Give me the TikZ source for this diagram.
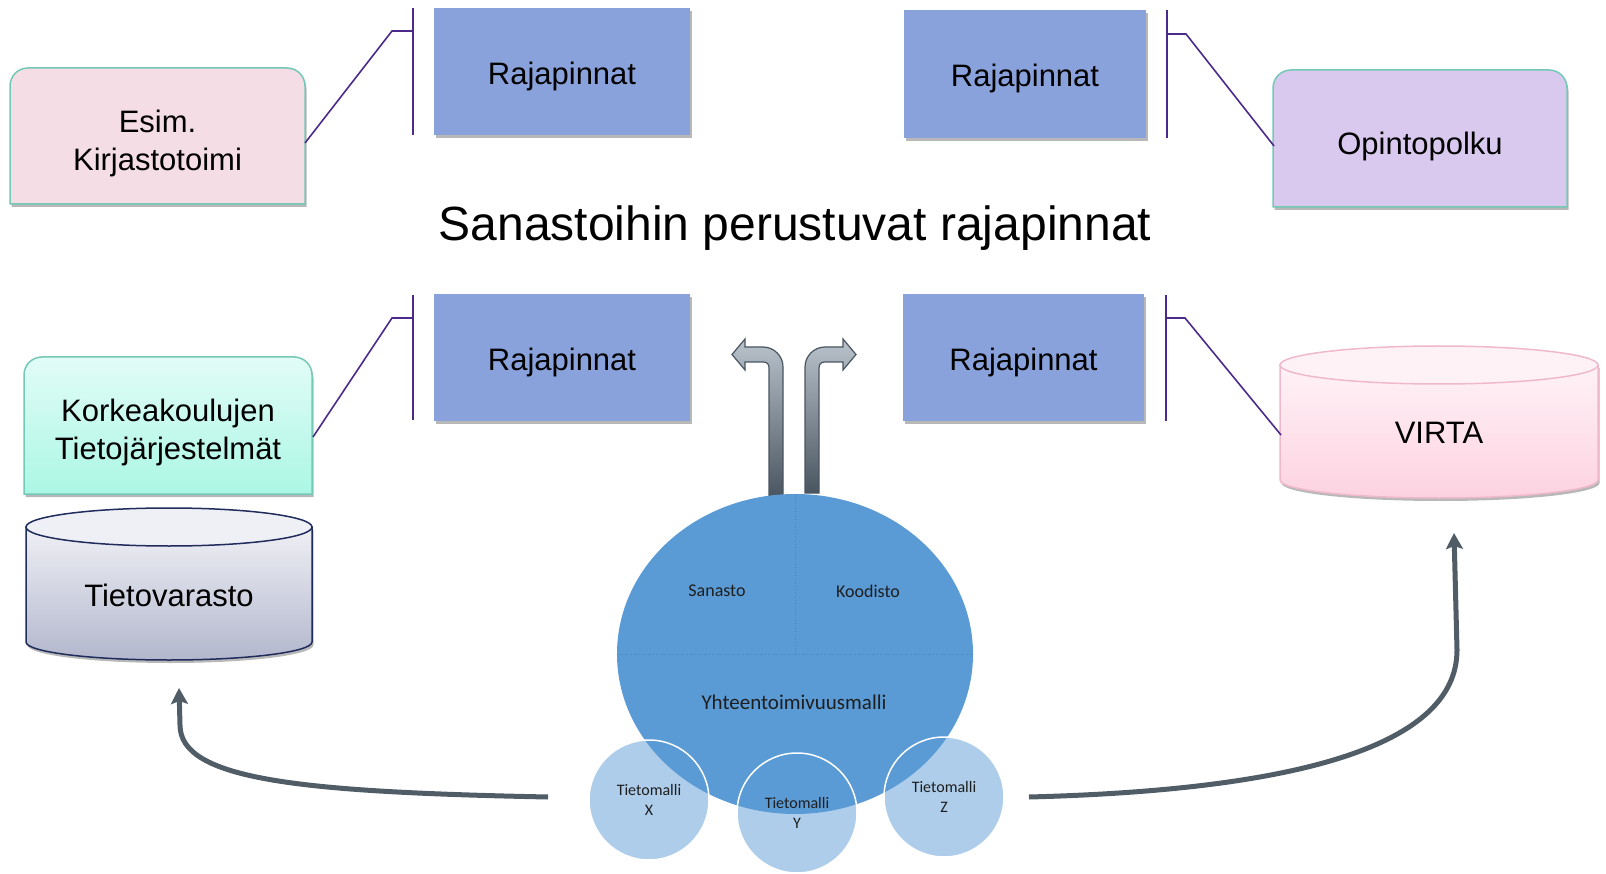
\documentclass[tikz,border=0pt]{standalone}
\usepackage{fontspec}
\setmainfont{Liberation Sans}
\newfontfamily\calfont{Carlito}
\usetikzlibrary{shadows,arrows.meta,shapes.geometric}

\definecolor{rajablue}{HTML}{8AA2DB}
\definecolor{bracketpurple}{HTML}{4B2A8C}
\definecolor{tealline}{HTML}{74C8B6}
\definecolor{esimpink}{HTML}{F5DDE6}
\definecolor{opinlav}{HTML}{D9C9EE}
\definecolor{kktop}{HTML}{E2FCF7}
\definecolor{kkbot}{HTML}{ABF7E4}
\definecolor{tvtop}{HTML}{EFF0F5}
\definecolor{tvbot}{HTML}{B3B7CD}
\definecolor{tvline}{HTML}{1F2C5C}
\definecolor{virtatop}{HTML}{FFF2F7}
\definecolor{virtabot}{HTML}{FDD2E1}
\definecolor{virtaline}{HTML}{F0B8CB}
\definecolor{coreblue}{HTML}{5B9BD5}
\definecolor{divblue}{HTML}{4A84BC}
\definecolor{turntop}{HTML}{BAC3CC}
\definecolor{turnbot}{HTML}{495560}
\definecolor{flowgray}{HTML}{505D67}
\definecolor{smalltext}{HTML}{1E1E1E}

\newcommand\bigtxt{\fontsize{31}{38}\selectfont}
% box with rounded top corners and square bottom corners
\newcommand\toptab[5]{%
  \path[#1] (#2,#5) -- (#2,#3+18) .. controls (#2,#3+8) and (#2+8,#3) .. (#2+18,#3)
    -- (#4-18,#3) .. controls (#4-8,#3) and (#4,#3+8) .. (#4,#3+18) -- (#4,#5) -- cycle;}

\tikzset{
  softshadow/.style={drop shadow={shadow xshift=1.5pt, shadow yshift=-3pt, opacity=0.28, fill=black}},
  rajabox/.style={fill=rajablue, inner sep=0pt, softshadow, font=\bigtxt, text height=26pt, text depth=0pt},
  bracket/.style={draw=bracketpurple, line width=1.6pt},
  label/.style={inner sep=0pt, align=center, font=\bigtxt},
  tmcircle/.style={circle, minimum size=120pt, inner sep=0pt, fill=coreblue, fill opacity=0.5,
    text opacity=1, text=smalltext, draw=white, line width=1.5pt, align=center,
    font=\calfont\fontsize{16}{20}\selectfont},
  flowarrow/.style={draw=flowgray, line width=5pt, -{Stealth[length=16pt,width=17pt,inset=3pt]}},
  turnarrow/.style={draw=turnbot, line width=1.2pt, top color=turntop, bottom color=turnbot},
}

\begin{document}
\begin{tikzpicture}[x=1pt, y=-1pt]
\useasboundingbox (0,0) rectangle (1606,874);

% interface boxes
\node[rajabox, minimum width=256pt, minimum height=127pt] (raja1) at (562,71.5) {Rajapinnat};
\node[rajabox, minimum width=242pt, minimum height=128pt] (raja2) at (1025,74) {Rajapinnat};
\node[rajabox, minimum width=256pt, minimum height=127pt] (raja3) at (562,357.5) {Rajapinnat};
\node[rajabox, minimum width=241pt, minimum height=127pt] (raja4) at (1023.5,357.5) {Rajapinnat};

% systems
\toptab{fill=esimpink, draw=tealline, line width=1.5pt, softshadow}{10}{68}{305}{204}
\node[label] (esim) at (157.5,143) {Esim.\\Kirjastotoimi};
\toptab{fill=opinlav, draw=tealline, line width=1.5pt, softshadow}{1273}{70}{1567}{207}
\node[label] (opin) at (1420,146) {Opintopolku};
\toptab{top color=kktop, bottom color=kkbot, draw=tealline, line width=1.5pt, softshadow}{24}{357}{312}{494}
\node[label] (korkea) at (168,432) {Korkeakoulujen\\Tietojärjestelmät};

% Tietovarasto drum
\path[top color=tvtop, bottom color=tvbot, draw=tvline, line width=1.5pt, softshadow]
  (26,527) -- (26,642) arc[start angle=180, end angle=0, x radius=143, y radius=18] -- (312,527) -- cycle;
\draw[fill=tvtop, draw=tvline, line width=1.5pt] (169,527) ellipse[x radius=143, y radius=19];
\node[label] (varasto) at (169,595) {Tietovarasto};

% VIRTA drum
\path[top color=virtatop, bottom color=virtabot, draw=virtaline, line width=1.5pt, softshadow]
  (1280,365) -- (1280,480) arc[start angle=180, end angle=0, x radius=159, y radius=18] -- (1598,365) -- cycle;
\draw[fill=virtatop, draw=virtaline, line width=1.5pt] (1439,365) ellipse[x radius=159, y radius=19];
\node[label] (virta) at (1439,433) {VIRTA};

% callout brackets
\coordinate (br1t) at (413,8);    \coordinate (br1b) at (413,135);
\coordinate (br1k) at (392,31);   \coordinate (br1m) at (413,31);
\draw[bracket] (br1t) -- (br1b);
\draw[bracket] (br1m) -- (br1k) -- (esim.east -| 305,0);

\coordinate (br2t) at (1167,10);  \coordinate (br2b) at (1167,138);
\coordinate (br2k) at (1186,34);  \coordinate (br2m) at (1167,34);
\draw[bracket] (br2t) -- (br2b);
\draw[bracket] (br2m) -- (br2k) -- (opin.west -| 1274,0);

\coordinate (br3t) at (413,295);  \coordinate (br3b) at (413,420);
\coordinate (br3k) at (392,318);  \coordinate (br3m) at (413,318);
\draw[bracket] (br3t) -- (br3b);
\draw[bracket] (br3m) -- (br3k) -- ([yshift=-5pt]korkea.east -| 313,0);

\coordinate (br4t) at (1166,295); \coordinate (br4b) at (1166,421);
\coordinate (br4k) at (1185,318); \coordinate (br4m) at (1166,318);
\draw[bracket] (br4t) -- (br4b);
\draw[bracket] (br4m) -- (br4k) -- (1281,435);

% title
\node[inner sep=0pt, font=\fontsize{48}{58}\selectfont] (title) at (795,228) {Sanastoihin perustuvat rajapinnat};

% turn arrows leaving the core
\path[turnarrow] (769,497) -- (769,368) .. controls (769,364) and (767,362) .. (763,362)
  -- (745,362) -- (745,370) -- (732,354.5) -- (745,339) -- (745,347) -- (763,347)
  .. controls (774,347) and (783,356) .. (783,367) -- (783,497) -- cycle;
\path[turnarrow] (819,493) -- (819,368) .. controls (819,364) and (821,362) .. (825,362)
  -- (843,362) -- (843,370) -- (856,354.5) -- (843,339) -- (843,347) -- (825,347)
  .. controls (814,347) and (805,356) .. (805,367) -- (805,493) -- cycle;

% core model
\node[ellipse, fill=coreblue, minimum width=356pt, minimum height=320pt, inner sep=0pt] (core) at (795,654) {};
\draw[divblue, dotted, line width=0.8pt] (core.north) -- (core.center);
\draw[divblue, dotted, line width=0.8pt] (core.west) -- (core.east);
\node[inner sep=0pt, text=smalltext, font=\calfont\fontsize{18}{22}\selectfont] (sanasto) at (717,591) {Sanasto};
\node[inner sep=0pt, text=smalltext, font=\calfont\fontsize{18}{22}\selectfont] (koodisto) at (868,591) {Koodisto};
\node[inner sep=0pt, text=smalltext, font=\calfont\fontsize{21}{25}\selectfont] (yhteen) at (794,702) {Yhteentoimivuusmalli};

\node[tmcircle] (tmx) at (649,800) {Tietomalli\\X};
\node[tmcircle] (tmy) at (797,813) {Tietomalli\\Y};
\node[tmcircle] (tmz) at (944,797) {Tietomalli\\Z};

% flows to the stores
\coordinate (flowLs) at (548,797);
\coordinate (flowLe) at (179,688);
\draw[flowarrow] (flowLs) .. controls (300,792) and (180,780) .. (180,725) -- (flowLe);
\coordinate (flowRs) at (1029,797);
\coordinate (flowRe) at (1454,533);
\draw[flowarrow] (flowRs) .. controls (1300,790) and (1457,745) .. (1457,650) -- (flowRe);
\end{tikzpicture}
\end{document}
